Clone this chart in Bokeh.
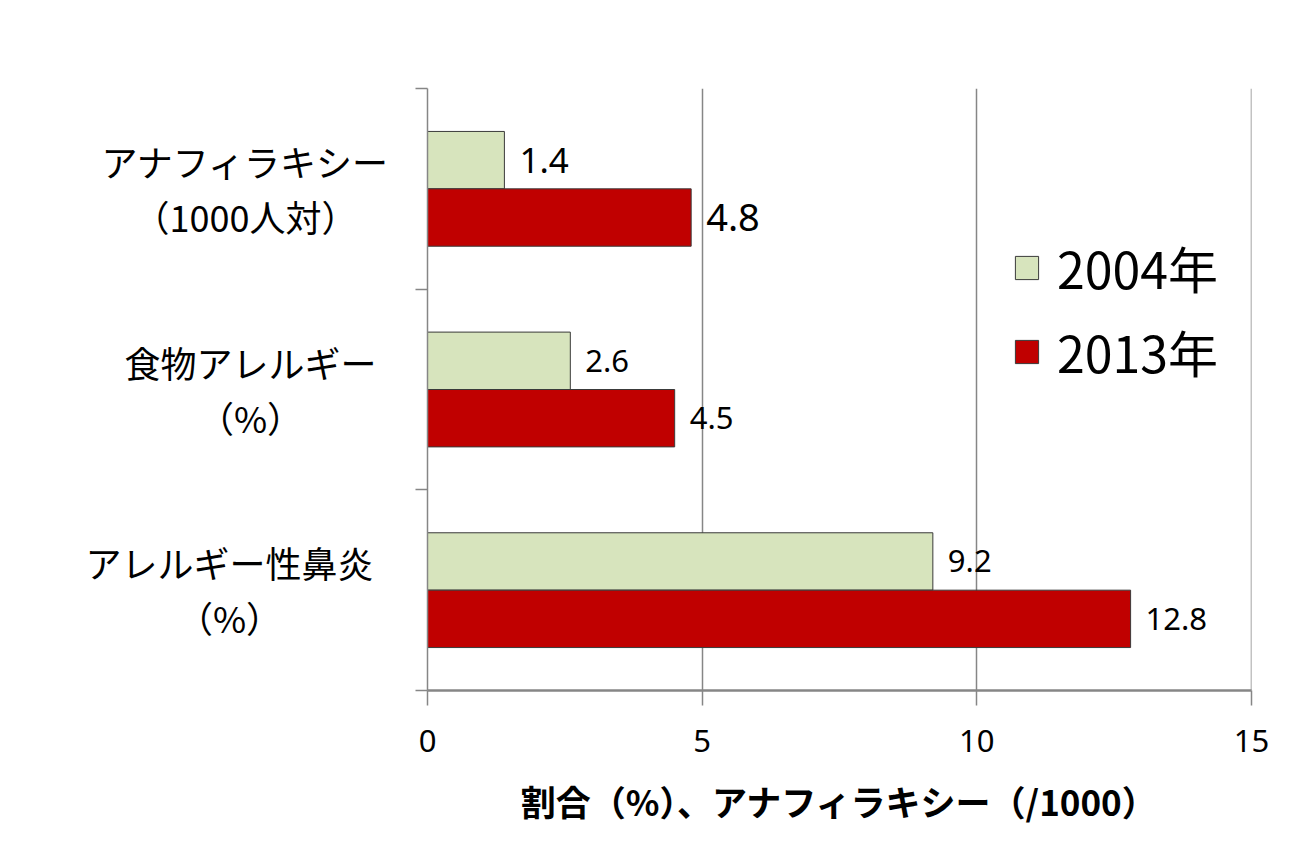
from bokeh.plotting import figure
from bokeh.layouts import row
from bokeh.models import (Range1d, FixedTicker, Legend, LegendItem,
                          ColumnDataSource)
from bokeh.core.properties import value
from bokeh.embed import file_html
from bokeh.resources import INLINE

# ---- data ----
categories = ["アナフィラキシー", "食物アレルギー", "アレルギー性鼻炎"]
category_sub = ["（1000人対）", "（%）", "（%）"]
years = ["2004年", "2013年"]
values_2004 = [1.4, 2.6, 9.2]
values_2013 = [4.8, 4.5, 12.8]
x_ticks = [0, 5, 10, 15]
x_title = "割合（%）、アナフィラキシー（/1000）"

# ---- styles ----
col_2004 = "#d7e4bd"
col_2013 = "#c00000"
grid_col = "#868686"
label_size_2004 = ["35px", "31px", "31px"]
label_size_2013 = ["38px", "31px", "31px"]
cat_label_cx = [245, 250, 229]  # x centre (px) of category label blocks
FRAME_LEFT = 427
MAIN_BORDER_LEFT = 22
LEFT_W = FRAME_LEFT - MAIN_BORDER_LEFT
TOP, BOTTOM = 88, 164
JP = "Noto Sans CJK JP"

n = len(categories)
centers = [n - i - 0.5 for i in range(n)]
bar_h = 0.286

y04 = [c + bar_h / 2 for c in centers]
y13 = [c - bar_h / 2 for c in centers]

src04 = ColumnDataSource(dict(y=y04, x=values_2004,
                              t=[f"{v:.1f}" for v in values_2004],
                              fs=label_size_2004))
src13 = ColumnDataSource(dict(y=y13, x=values_2013,
                              t=[f"{v:.1f}" for v in values_2013],
                              fs=label_size_2013))

yr = Range1d(0, n)

# ---------------- main plot ----------------
p = figure(width=1311 - LEFT_W, height=854, output_backend="svg",
           toolbar_location=None, x_range=Range1d(0, x_ticks[-1] + 0.001),
           y_range=yr,
           min_border_left=MAIN_BORDER_LEFT, min_border_right=60,
           min_border_top=TOP, min_border_bottom=BOTTOM)
p.outline_line_color = None
p.background_fill_color = "white"
p.border_fill_color = "white"

p.ygrid.visible = False
p.xgrid.ticker = FixedTicker(ticks=x_ticks)
p.xgrid.grid_line_color = grid_col
p.xgrid.grid_line_width = 1.5

r04 = p.hbar(y="y", right="x", left=0, height=bar_h, source=src04,
             fill_color=col_2004, line_color="#3a3a3a", line_width=1)
r13 = p.hbar(y="y", right="x", left=0, height=bar_h, source=src13,
             fill_color=col_2013, line_color="#3a3a3a", line_width=1)

for src in (src04, src13):
    p.text(x="x", y="y", text="t", source=src, x_offset=15,
           text_baseline="middle", text_align="left",
           text_font=value("Noto Sans"), text_font_size="fs",
           text_color="black")

xa = p.xaxis[0]
xa.ticker = FixedTicker(ticks=x_ticks)
xa.axis_line_color = grid_col
xa.axis_line_width = 2.5
xa.major_tick_line_color = grid_col
xa.major_tick_line_width = 1.5
xa.major_tick_out = 15
xa.major_tick_in = 0
xa.minor_tick_line_color = None
xa.major_label_text_font = "Noto Sans"
xa.major_label_text_font_size = "31px"
xa.major_label_text_color = "black"
xa.major_label_standoff = 24
xa.axis_label = x_title
xa.axis_label_text_font = JP
xa.axis_label_text_font_style = "bold"
xa.axis_label_text_font_size = "35px"
xa.axis_label_text_color = "black"
xa.axis_label_standoff = 20

ya = p.yaxis[0]
ya.ticker = FixedTicker(ticks=list(range(n + 1)))
ya.axis_line_color = grid_col
ya.axis_line_width = 1.5
ya.major_tick_line_color = grid_col
ya.major_tick_line_width = 1.5
ya.major_tick_out = 12
ya.major_tick_in = 0
ya.minor_tick_line_color = None
ya.major_label_overrides = {i: "" for i in range(n + 1)}

legend = Legend(items=[LegendItem(label=years[0], renderers=[r04]),
                       LegendItem(label=years[1], renderers=[r13])],
                location=(585, 303), orientation="vertical",
                glyph_width=29, glyph_height=29, label_standoff=16,
                label_text_font=JP, label_text_font_size="50px",
                label_text_color="black", spacing=12, padding=0, margin=0,
                border_line_color=None, background_fill_alpha=0)
p.add_layout(legend, "center")

# ---------------- left panel: category labels ----------------
pl = figure(width=LEFT_W, height=854, output_backend="svg",
            toolbar_location=None, x_range=Range1d(0, LEFT_W), y_range=yr,
            x_axis_location=None, y_axis_location=None,
            min_border_left=0, min_border_right=0,
            min_border_top=TOP, min_border_bottom=BOTTOM)
pl.outline_line_color = None
pl.grid.visible = False
pl.background_fill_color = "white"
pl.border_fill_color = "white"

cat_src = ColumnDataSource(dict(x=cat_label_cx, y=centers,
                                t1=categories, t2=category_sub))
pl.text(x="x", y="y", text="t1", source=cat_src, y_offset=-28,
        text_align="center", text_baseline="middle",
        text_font=value(JP), text_font_size="36px", text_color="black")
pl.text(x="x", y="y", text="t2", source=cat_src, y_offset=27,
        text_align="center", text_baseline="middle",
        text_font=value(JP), text_font_size="36px", text_color="black")

layout = row(pl, p, spacing=0)
open("out.html", "w").write(file_html(layout, INLINE))
